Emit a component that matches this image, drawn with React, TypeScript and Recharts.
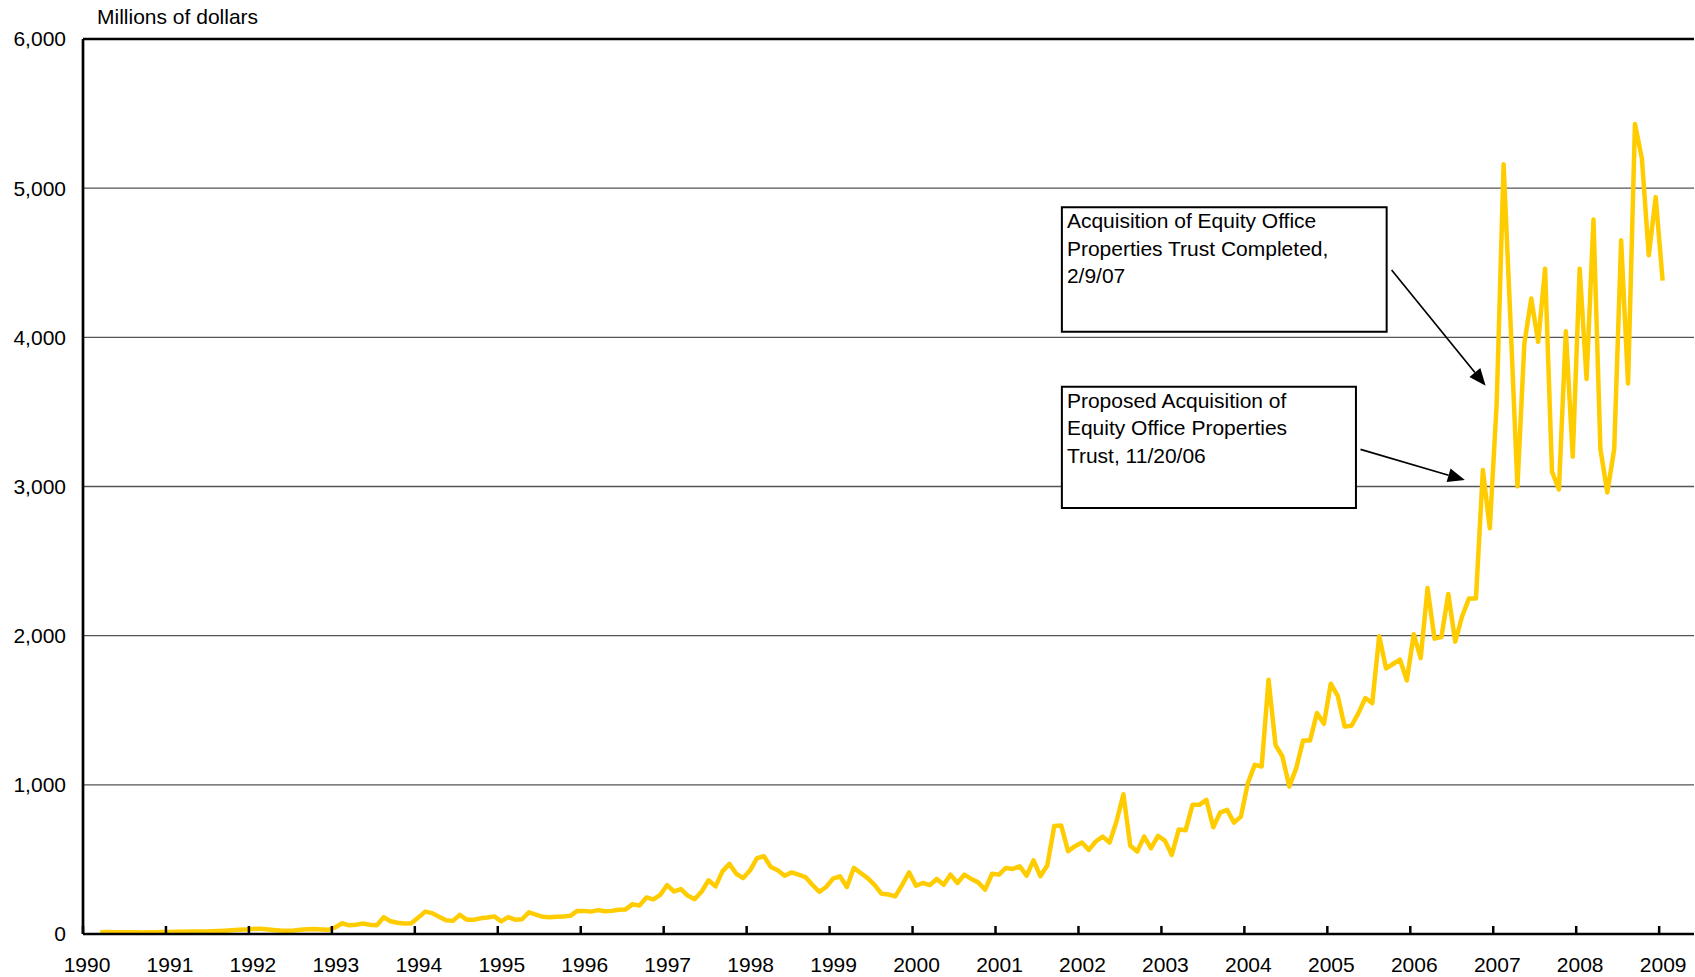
import React from 'react';
import {
  LineChart,
  Line,
  XAxis,
  YAxis,
  CartesianGrid,
  ReferenceLine,
  ReferenceArea,
} from 'recharts';

// ---- data -----------------------------------------------------------
const startYear = 1990;
const startMonth = 3; // first observation: March 1990

// monthly values, millions of dollars (Mar 1990 .. Jan 2009)
const values: number[] = [
  // 1990 (Mar-Dec)
  12, 13, 12, 12, 11, 11, 10, 11, 12, 13,
  // 1991
  14, 15, 15, 16, 17, 17, 18, 20, 22, 25, 28, 30,
  // 1992
  33, 36, 32, 27, 23, 22, 24, 28, 32, 33, 30, 28,
  // 1993
  45, 72, 58, 62, 70, 62, 58, 112, 85, 75, 70, 72,
  // 1994
  110, 150, 140, 115, 92, 88, 128, 96, 96, 105, 110, 118,
  // 1995
  85, 113, 96, 99, 145, 130, 115, 113, 115, 118, 122, 155,
  // 1996
  155, 150, 160, 152, 155, 162, 165, 200, 190, 245, 232, 262,
  // 1997
  328, 285, 301, 256, 234, 285, 360, 319, 420, 470, 404, 375,
  // 1998
  427, 508, 521, 449, 427, 391, 413, 398, 382, 330, 283, 315,
  // 1999
  371, 387, 315, 443, 409, 375, 330, 270, 265, 252, 330, 413,
  // 2000
  324, 342, 328, 369, 330, 398, 342, 398, 369, 346, 297, 404,
  // 2001
  398, 443, 436, 454, 391, 494, 387, 461, 724, 728, 555, 589,
  // 2002
  613, 564, 620, 653, 613, 754, 937, 591, 553, 653, 575, 658,
  // 2003
  626, 530, 700, 695, 866, 866, 899, 716, 814, 832, 747, 787,
  // 2004
  1011, 1134, 1123, 1705, 1268, 1190, 989, 1112, 1298, 1298, 1481, 1409,
  // 2005
  1678, 1597, 1391, 1396, 1481, 1582, 1548, 1996, 1780, 1810, 1840, 1700,
  // 2006
  2010, 1850, 2320, 1980, 1990, 2280, 1960, 2130, 2250, 2250, 3110, 2720,
  // 2007
  3560, 5160, 4100, 3000, 3960, 4260, 3970, 4460, 3100, 2980, 4040, 3200,
  // 2008
  4460, 3720, 4790, 3250, 2960, 3250, 4650, 3690, 5430, 5200, 4550, 4940,
  // 2009
  4380,
];

const yearTicks: number[] = [
  1990, 1991, 1992, 1993, 1994, 1995, 1996, 1997, 1998, 1999,
  2000, 2001, 2002, 2003, 2004, 2005, 2006, 2007, 2008, 2009,
];
const valueTicks: number[] = [0, 1000, 2000, 3000, 4000, 5000, 6000];

const yAxisTitle = 'Millions of dollars';
const completedLines = ['Acquisition of Equity Office', 'Properties Trust Completed,', '2/9/07'];
const proposedLines = ['Proposed Acquisition of', 'Equity Office Properties', 'Trust, 11/20/06'];

// annotation anchors in data units
const completedBox = { x1: 2001.8, x2: 2005.715, y1: 4038, y2: 4872 };
const proposedBox = { x1: 2001.8, x2: 2005.345, y1: 2856, y2: 3669 };
const completedArrow = [{ x: 2005.775, y: 4451 }, { x: 2006.908, y: 3676 }];
const proposedArrow = [{ x: 2005.4, y: 3249 }, { x: 2006.658, y: 3043 }];

const data = values.map((v, i) => {
  const m = startMonth - 1 + i;
  const year = startYear + Math.floor(m / 12);
  const month = (m % 12) + 1;
  return { t: year + (month - 0.5) / 12, value: v };
});

// ---- styling --------------------------------------------------------
const FONT = '"Liberation Sans", Arial, Helvetica, sans-serif';
const FS = 21;

const XTick = (props: any) => {
  const { x, y, payload } = props;
  return (
    <g>
      <line x1={x} x2={x} y1={y - 8} y2={y} stroke="#000" strokeWidth={2.5} />
      <text x={x + 4} y={y + 38} textAnchor="middle" fontSize={FS} fontFamily={FONT} fill="#000">
        {payload.value}
      </text>
    </g>
  );
};

const TitleLabel = (props: any) => {
  const vb = props.viewBox || { x: 0, y: 39 };
  return (
    <text x={vb.x + 97} y={vb.y - 15} fontSize={FS} fontFamily={FONT} fill="#000">
      {yAxisTitle}
    </text>
  );
};

const BoxLabel = (props: any) => {
  const { viewBox, lines } = props;
  if (!viewBox) return null;
  return (
    <text fontSize={FS} fontFamily={FONT} fill="#000">
      {lines.map((l: string, i: number) => (
        <tspan key={i} x={viewBox.x + 5} y={viewBox.y + 21 + i * 27.5}>
          {l}
        </tspan>
      ))}
    </text>
  );
};

const ArrowShape = (props: any) => {
  const { x1, y1, x2, y2 } = props;
  if ([x1, y1, x2, y2].some((v) => typeof v !== 'number' || isNaN(v))) return null;
  const dx = x2 - x1;
  const dy = y2 - y1;
  const len = Math.hypot(dx, dy) || 1;
  const ux = dx / len;
  const uy = dy / len;
  const hl = 17;
  const hw = 7;
  const bx = x2 - ux * hl;
  const by = y2 - uy * hl;
  const p1 = `${bx - uy * hw},${by + ux * hw}`;
  const p2 = `${bx + uy * hw},${by - ux * hw}`;
  return (
    <g>
      <line x1={x1} y1={y1} x2={bx} y2={by} stroke="#000" strokeWidth={1.7} />
      <polygon points={`${x2},${y2} ${p1} ${p2}`} fill="#000" />
    </g>
  );
};

export default function App() {
  return (
    <div style={{ position: 'absolute', left: 0, top: 0, background: '#fff' }}>
      <LineChart
        width={1695}
        height={977}
        data={data}
        margin={{ top: 39, right: 1, bottom: 0, left: 0 }}
      >
        <CartesianGrid horizontal vertical={false} stroke="#555" strokeWidth={1.3} />
        <XAxis
          dataKey="t"
          type="number"
          domain={[1990, 2009.42]}
          ticks={yearTicks}
          allowDataOverflow
          interval={0}
          height={43}
          axisLine={{ stroke: '#000', strokeWidth: 2.7 }}
          tickLine={false}
          tickSize={0}
          tickMargin={0}
          tick={<XTick />}
        />
        <YAxis
          type="number"
          domain={[0, 6000]}
          ticks={valueTicks}
          interval={0}
          width={83}
          axisLine={{ stroke: '#000', strokeWidth: 2.7 }}
          tickLine={false}
          tickSize={0}
          tickMargin={17}
          tick={{ fill: '#000', fontSize: FS, fontFamily: FONT }}
          tickFormatter={(v: number) => v.toLocaleString('en-US')}
          label={<TitleLabel />}
        />
        <ReferenceLine y={6000} stroke="#000" strokeWidth={2.7} />
        <ReferenceArea
          x1={completedBox.x1}
          x2={completedBox.x2}
          y1={completedBox.y1}
          y2={completedBox.y2}
          fill="#fff"
          fillOpacity={1}
          stroke="#000"
          strokeWidth={2}
          label={<BoxLabel lines={completedLines} />}
        />
        <ReferenceArea
          x1={proposedBox.x1}
          x2={proposedBox.x2}
          y1={proposedBox.y1}
          y2={proposedBox.y2}
          fill="#fff"
          fillOpacity={1}
          stroke="#000"
          strokeWidth={2}
          label={<BoxLabel lines={proposedLines} />}
        />
        <ReferenceLine segment={completedArrow} shape={ArrowShape} />
        <ReferenceLine segment={proposedArrow} shape={ArrowShape} />
        <Line
          dataKey="value"
          type="linear"
          stroke="#FFCC00"
          strokeWidth={4.5}
          strokeLinejoin="round"
          dot={false}
          activeDot={false}
          isAnimationActive={false}
        />
      </LineChart>
    </div>
  );
}
